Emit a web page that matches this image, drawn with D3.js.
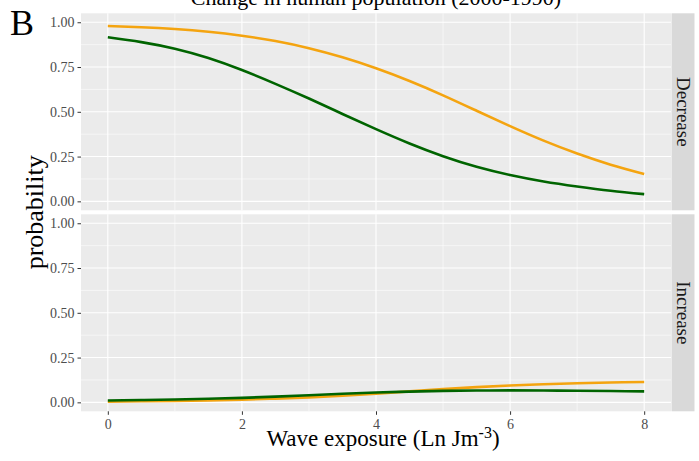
<!DOCTYPE html>
<html>
<head>
<meta charset="utf-8">
<script src="https://cdn.jsdelivr.net/npm/d3@7"></script>
<style>
  html, body { margin: 0; padding: 0; background: #ffffff; }
  svg { display: block; }
  text { font-family: "Liberation Serif", "Times New Roman", serif; }
</style>
</head>
<body>
<svg id="chart" width="699" height="461"></svg>
<script>
// Wave exposure values at which the fitted probabilities are drawn
const exposure = [0, 0.5, 1, 1.5, 2, 2.5, 3, 3.5, 4, 4.5, 5, 5.5, 6, 6.5, 7, 7.5, 8];

// Decrease facet
const decreaseOrange = [0.979, 0.972, 0.962, 0.947, 0.925, 0.895, 0.855, 0.804, 0.743, 0.672, 0.592, 0.506, 0.420, 0.339, 0.267, 0.205, 0.153];
const decreaseGreen  = [0.916, 0.889, 0.852, 0.800, 0.733, 0.656, 0.574, 0.488, 0.403, 0.323, 0.252, 0.193, 0.147, 0.111, 0.083, 0.059, 0.040];

// Increase facet
const increaseOrange = [0.004, 0.006, 0.008, 0.011, 0.015, 0.021, 0.028, 0.037, 0.048, 0.061, 0.074, 0.085, 0.094, 0.101, 0.107, 0.111, 0.114];
const increaseGreen  = [0.010, 0.013, 0.016, 0.020, 0.025, 0.032, 0.040, 0.048, 0.055, 0.060, 0.064, 0.066, 0.067, 0.066, 0.065, 0.063, 0.061];

const facets = ["Decrease", "Increase"];
const xTicks = [0, 2, 4, 6, 8];
const xMinor = [1, 3, 5, 7];
const yTicks = [0, 0.25, 0.5, 0.75, 1];
const yMinor = [0.125, 0.375, 0.625, 0.875];

const titleText = "Change in human population (2000-1990)";
const panelLetter = "B";
const yTitle = "probability";

const colOrange = "#F4A410";
const colGreen = "#006400";

const facetSeries = {
  Decrease: [{ values: decreaseOrange, color: colOrange }, { values: decreaseGreen, color: colGreen }],
  Increase: [{ values: increaseOrange, color: colOrange }, { values: increaseGreen, color: colGreen }]
};

const svg = d3.select("#chart");

const panelLeft = 81, panelRight = 671;
const panelTop = 13.3, panelH = 197, panelGap = 4;
const stripW = 23;

const x = d3.scaleLinear().domain([-0.4, 8.4]).range([panelLeft, panelRight]);

facets.forEach((facet, i) => {
  const top = panelTop + i * (panelH + panelGap);
  const y = d3.scaleLinear().domain([-0.05, 1.05]).range([top + panelH, top]);

  const g = svg.append("g");

  // panel background
  g.append("rect")
    .attr("x", panelLeft).attr("y", top)
    .attr("width", panelRight - panelLeft).attr("height", panelH)
    .attr("fill", "#EBEBEB");

  // minor grid
  g.selectAll(".ym").data(yMinor).join("line")
    .attr("x1", panelLeft).attr("x2", panelRight)
    .attr("y1", d => y(d)).attr("y2", d => y(d))
    .attr("stroke", "#ffffff").attr("stroke-width", 0.55);
  g.selectAll(".xm").data(xMinor).join("line")
    .attr("y1", top).attr("y2", top + panelH)
    .attr("x1", d => x(d)).attr("x2", d => x(d))
    .attr("stroke", "#ffffff").attr("stroke-width", 0.55);

  // major grid
  g.selectAll(".yM").data(yTicks).join("line")
    .attr("x1", panelLeft).attr("x2", panelRight)
    .attr("y1", d => y(d)).attr("y2", d => y(d))
    .attr("stroke", "#ffffff").attr("stroke-width", 1.1);
  g.selectAll(".xM").data(xTicks).join("line")
    .attr("y1", top).attr("y2", top + panelH)
    .attr("x1", d => x(d)).attr("x2", d => x(d))
    .attr("stroke", "#ffffff").attr("stroke-width", 1.1);

  // y axis
  const yAxis = d3.axisLeft(y).tickValues(yTicks).tickFormat(d3.format(".2f"))
    .tickSize(3.5).tickPadding(3);
  const ya = g.append("g").attr("transform", `translate(${panelLeft},0)`).call(yAxis);
  ya.select(".domain").remove();
  ya.selectAll(".tick line").attr("stroke", "#333333").attr("stroke-width", 1);
  ya.selectAll(".tick text")
    .attr("fill", "#4D4D4D")
    .style("font-size", "14px")
    .style("font-family", "'Liberation Serif', serif");

  // curves
  const line = d3.line()
    .x((d, k) => x(exposure[k]))
    .y(d => y(d))
    .curve(d3.curveNatural);
  facetSeries[facet].forEach(s => {
    g.append("path")
      .attr("d", line(s.values))
      .attr("fill", "none")
      .attr("stroke", s.color)
      .attr("stroke-width", 2.6)
      .attr("stroke-linecap", "butt");
  });

  // strip
  g.append("rect")
    .attr("x", panelRight + 0.5).attr("y", top)
    .attr("width", stripW).attr("height", panelH)
    .attr("fill", "#D9D9D9");
  g.append("text")
    .attr("transform", `translate(${panelRight + 0.5 + stripW / 2},${top + panelH / 2}) rotate(90)`)
    .attr("text-anchor", "middle")
    .attr("dominant-baseline", "central")
    .attr("fill", "#1A1A1A")
    .style("font-size", "19px")
    .text(facet);

  // x axis on bottom panel
  if (i === facets.length - 1) {
    const xAxis = d3.axisBottom(x).tickValues(xTicks).tickFormat(d3.format("d"))
      .tickSize(3.5).tickPadding(4);
    const xa = g.append("g").attr("transform", `translate(0,${top + panelH})`).call(xAxis);
    xa.select(".domain").remove();
    xa.selectAll(".tick line").attr("stroke", "#333333").attr("stroke-width", 1);
    xa.selectAll(".tick text")
      .attr("fill", "#4D4D4D")
      .style("font-size", "14px")
      .style("font-family", "'Liberation Serif', serif");
  }
});

const centerX = (panelLeft + panelRight) / 2;
const panelsMidY = panelTop + (2 * panelH + panelGap) / 2;

// title (sits partly above the top edge)
svg.append("text")
  .attr("x", centerX).attr("y", 5)
  .attr("text-anchor", "middle")
  .attr("fill", "#000")
  .style("font-size", "22px")
  .text(titleText);

// panel letter
svg.append("text")
  .attr("x", 10).attr("y", 35)
  .attr("fill", "#000")
  .style("font-size", "36px")
  .text(panelLetter);

// y title
svg.append("text")
  .attr("transform", `translate(43,${panelsMidY}) rotate(-90)`)
  .attr("text-anchor", "middle")
  .attr("fill", "#000")
  .style("font-size", "26px")
  .text(yTitle);

// x title with superscript exponent
const xt = svg.append("text")
  .attr("x", centerX + 7).attr("y", 446)
  .attr("text-anchor", "middle")
  .attr("fill", "#000")
  .style("font-size", "23px");
xt.append("tspan").text("Wave exposure (Ln Jm");
xt.append("tspan").attr("dy", -8).style("font-size", "16px").text("-3");
xt.append("tspan").attr("dy", 8).text(")");
</script>
</body>
</html>
